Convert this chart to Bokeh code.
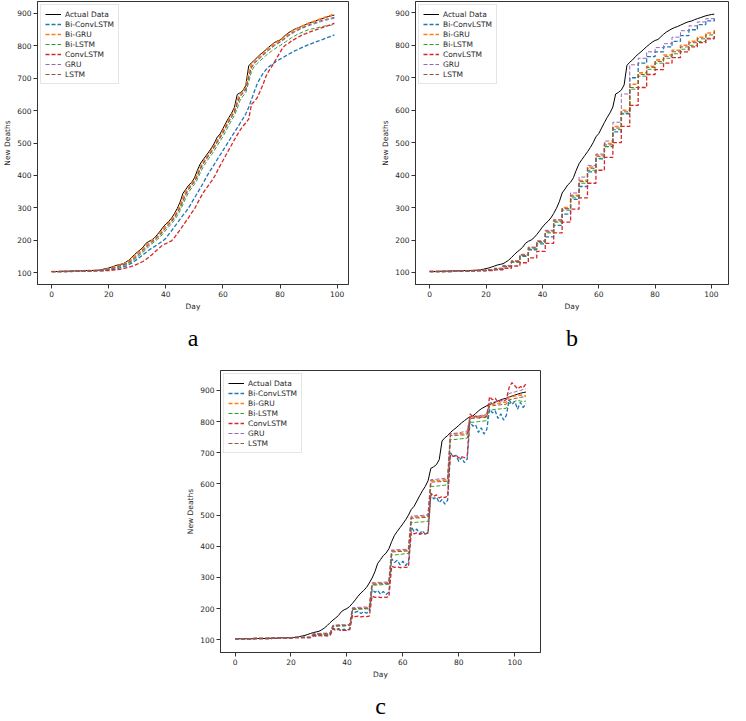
from bokeh.plotting import figure
from bokeh.layouts import column, row
from bokeh.models import Range1d, FixedTicker, Title, Spacer
from bokeh.embed import file_html
from bokeh.resources import INLINE

# ---------------- data ----------------
models = ["Bi-ConvLSTM", "Bi-GRU", "Bi-LSTM", "ConvLSTM", "GRU", "LSTM"]
colors = ["#1f77b4", "#ff7f0e", "#2ca02c", "#d62728", "#9467bd", "#8c564b"]
widths = [1.3, 1.6, 1.0, 1.3, 1.0, 1.0]

x_ticks = [0, 20, 40, 60, 80, 100]
y_ticks = [100, 200, 300, 400, 500, 600, 700, 800, 900]

# Panel a (days 0..99)
actual_a = [103,103,103,104,104,104,104,105,105,105,
            105,106,106,106,106,107,107,108,110,112,
            114,117,120,123,125,127,132,138,146,155,
            163,170,178,190,196,200,207,217,228,240,
            250,258,268,282,298,318,345,357,370,378,
            392,415,435,448,460,472,485,500,518,528,
            545,562,578,592,610,650,655,662,678,738,
            748,755,765,773,780,788,796,803,810,815,
            818,826,834,841,846,851,855,858,862,866,
            870,873,875,879,882,885,888,891,893,895]

biconv_a = [103,103,103,103,103,103,103,104,104,104,
            104,104,105,105,105,105,106,106,106,107,
            108,109,110,112,114,117,120,124,129,135,
            141,148,155,162,169,175,180,186,192,198,
            206,218,229,241,253,265,277,288,300,315,
            330,345,360,375,392,407,421,435,449,463,
            477,491,505,519,533,547,561,575,590,610,
            635,660,683,700,714,726,735,742,748,754,
            759,764,769,774,779,784,788,792,796,800,
            804,807,810,814,817,820,824,827,830,834]

bigru_a = [103,103,103,103,104,104,104,104,105,105,
           105,105,106,106,106,106,107,107,108,110,
           112,115,118,121,124,126,129,135,142,150,
           158,166,174,184,192,198,204,212,222,234,
           245,254,263,276,291,309,332,350,363,374,
           385,403,425,441,454,466,479,493,509,523,
           538,555,571,586,602,632,652,659,672,718,
           744,753,761,770,777,785,793,800,807,813,
           817,824,831,838,844,849,854,858,862,866,
           870,873,876,879,883,886,889,892,895,898]

bilstm_a = [103,103,103,103,103,103,104,104,104,104,
            105,105,105,105,106,106,106,106,107,107,
            109,111,113,115,118,121,124,128,133,140,
            147,155,163,171,180,188,195,202,210,220,
            231,241,251,262,275,291,311,331,348,361,
            372,387,407,425,439,452,464,477,492,506,
            520,537,554,570,585,607,632,645,656,688,
            722,737,746,754,762,770,777,784,790,796,
            801,807,813,819,825,830,835,839,843,847,
            850,852,854,856,858,860,862,863,864,866]

conv_a = [103,103,103,103,103,103,103,103,104,104,
          104,104,104,104,105,105,105,105,105,106,
          106,107,108,109,110,112,114,116,119,122,
          126,130,134,140,147,154,162,170,178,186,
          189,194,198,208,220,232,245,258,270,284,
          296,313,330,345,358,370,382,396,413,430,
          446,462,478,494,510,525,540,552,562,574,
          620,628,640,660,680,705,722,735,750,765,
          780,795,803,808,815,820,826,830,835,838,
          842,845,848,851,854,857,860,863,866,870]

gru_a = [103,103,103,103,103,104,104,104,104,105,
         105,105,105,106,106,106,106,107,107,108,
         110,112,114,117,120,123,126,130,136,143,
         151,159,167,176,185,192,199,206,215,226,
         237,247,257,268,282,299,320,340,356,368,
         379,396,417,434,447,460,472,486,501,515,
         530,547,564,579,594,620,643,653,664,700,
         732,745,754,762,770,778,786,793,800,806,
         811,817,824,831,837,842,847,851,855,859,
         862,865,868,871,874,877,879,881,883,885]

lstm_a = [103,103,103,103,103,104,104,104,104,105,
          105,105,105,106,106,106,106,107,107,108,
          111,113,115,118,121,124,127,132,138,145,
          153,161,169,178,187,194,201,208,217,228,
          239,249,259,271,285,302,323,343,358,370,
          381,398,420,436,449,462,474,488,503,517,
          532,549,566,581,596,623,646,655,666,705,
          735,747,756,764,772,780,788,795,802,808,
          813,819,826,833,839,844,849,853,857,861,
          865,868,871,874,877,880,882,884,886,888]

# Panel b (days 0..101); forecasts are 3-day steps starting at these days
actual_b = [103] + actual_a + [896]
step_days_b = [0, 2, 5, 8, 11, 14, 17, 20, 23, 26, 29, 32, 35, 38, 41, 44, 47,
               50, 53, 56, 59, 62, 65, 68, 71, 74, 77, 80, 83, 86, 89, 92, 95, 98, 101]
biconv_b = [103,103,103,104,104,105,106,107,110,118,
            132,150,170,188,210,245,280,325,365,410,
            450,488,533,590,700,745,765,780,795,812,
            830,848,864,875,882]
bigru_b = [103,103,104,104,105,106,107,108,112,120,
           136,155,177,197,228,262,300,338,383,425,
           462,497,550,600,680,715,735,755,770,785,
           800,812,825,838,848]
bilstm_b = [103,103,104,104,105,105,106,108,111,118,
            132,151,172,192,222,255,292,330,375,415,
            452,488,540,588,665,705,726,745,760,774,
            788,800,812,822,830]
conv_b = [103,103,103,104,104,105,105,106,108,113,
          120,130,145,165,190,222,255,295,330,375,
          415,455,500,550,615,670,710,725,745,762,
          780,795,808,820,830]
gru_b = [103,103,104,104,105,106,107,109,113,122,
         135,155,178,197,230,262,297,345,394,430,
         465,505,563,650,740,760,780,793,805,825,
         845,860,872,882,888]
lstm_b = [103,103,104,104,105,106,107,108,111,119,
          134,153,175,195,225,258,296,335,380,421,
          458,493,545,595,670,710,732,750,766,780,
          795,808,820,832,843]

# Panel c (days 0..104), forecasts in 7-day blocks
actual_c = [103, 103, 103, 103, 103] + actual_a
biconv_c = ([103]*7 + [104]*7 + [105]*7 + [107]*7 +
            [112,114,113,115,114,116,115] +
            [138,132,136,130,134,131,135] +
            [195,188,192,184,190,185,191] +
            [262,252,258,246,255,245,252] +
            [360,348,355,340,352,338,350] +
            [462,448,455,440,450,438,446] +
            [565,552,558,540,550,535,548] +
            [700,688,692,672,685,668,680] +
            [800,785,790,765,780,760,775] +
            [840,828,835,810,825,805,820] +
            [870,855,865,840,862,845,858])
bigru_c = ([103]*7 + [104]*7 + [106]*7 + [108]*7 +
           [118,118,119,119,119,120,120] +
           [145,145,146,146,146,147,147] +
           [200,200,201,201,202,202,202] +
           [280,280,281,281,282,282,283] +
           [385,385,386,386,387,387,388] +
           [493,493,494,494,495,496,497] +
           [610,610,611,611,612,613,614] +
           [760,760,760,761,761,762,763] +
           [815,815,816,817,818,819,820] +
           [855,856,857,858,860,862,863] +
           [878,880,882,884,885,884,882])
bilstm_c = ([103]*7 + [104]*7 + [105]*7 + [107]*7 +
            [116,116,117,117,117,118,118] +
            [143,143,144,144,144,145,145] +
            [197,197,198,198,198,199,199] +
            [275,275,276,276,277,277,278] +
            [372,372,373,374,375,376,377] +
            [476,476,477,478,478,479,480] +
            [592,592,593,594,595,596,597] +
            [742,742,743,744,745,746,747] +
            [798,798,799,800,801,802,803] +
            [838,838,839,840,841,842,843] +
            [858,860,865,868,866,864,866])
conv_c = ([103]*7 + [104]*7 + [105]*7 + [107]*7 +
          [113,112,114,112,113,112,114] +
          [135,130,133,128,131,129,132] +
          [178,174,176,173,175,174,176] +
          [240,236,238,235,237,236,238] +
          [336,332,334,331,333,332,334] +
          [445,440,443,438,441,440,442] +
          [570,560,565,555,560,556,562] +
          [695,688,692,683,688,684,690] +
          [825,815,818,810,815,812,818] +
          [880,870,875,862,868,865,872] +
          [910,925,915,905,912,908,922])
gru_c = ([103]*7 + [104]*7 + [106]*7 + [108]*7 +
         [120,120,120,121,121,121,122] +
         [147,147,148,148,148,149,149] +
         [203,203,204,204,205,205,205] +
         [283,283,284,284,285,285,286] +
         [388,388,389,389,390,390,391] +
         [497,497,498,498,499,500,501] +
         [614,614,615,616,617,618,620] +
         [762,762,763,764,766,768,770] +
         [812,813,815,817,820,822,825] +
         [860,862,864,866,868,870,872] +
         [890,893,895,898,900,903,905])
lstm_c = ([103]*7 + [104]*7 + [106]*7 + [108]*7 +
          [117,117,118,118,118,119,119] +
          [144,144,145,145,145,146,146] +
          [199,199,200,200,200,201,201] +
          [278,278,279,279,280,280,281] +
          [382,382,383,383,384,384,385] +
          [490,490,491,491,492,492,493] +
          [606,606,607,607,608,608,609] +
          [755,755,756,756,757,757,758] +
          [810,810,811,812,813,814,815] +
          [850,851,852,853,854,855,856] +
          [870,872,874,876,878,879,880])

FONT = "DejaVu Sans"
TXT = "#262626"


def make_fig(width, height, xr, yr, bl, br, bt, bb, letter, standoff):
    p = figure(width=width, height=height, x_range=Range1d(*xr), y_range=Range1d(*yr),
               output_backend="svg", toolbar_location=None,
               min_border_left=bl, min_border_right=br,
               min_border_top=bt, min_border_bottom=bb)
    p.background_fill_color = "white"
    p.border_fill_color = "white"
    p.outline_line_color = "#333333"
    p.outline_line_width = 1
    p.xgrid.visible = False
    p.ygrid.visible = False
    for ax in (p.xaxis[0], p.yaxis[0]):
        ax.axis_line_color = "#333333"
        ax.major_tick_line_color = "#333333"
        ax.major_tick_out = 4
        ax.major_tick_in = 0
        ax.minor_tick_line_color = None
        ax.major_label_text_font = FONT
        ax.major_label_text_font_size = "7.5px"
        ax.major_label_text_color = TXT
        ax.major_label_standoff = 2
        ax.axis_label_text_font = FONT
        ax.axis_label_text_font_size = "7.5px"
        ax.axis_label_text_font_style = "normal"
        ax.axis_label_text_color = TXT
        ax.axis_label_standoff = 2
    p.xaxis.axis_label = "Day"
    p.yaxis.axis_label = "New Deaths"
    p.xaxis.ticker = FixedTicker(ticks=x_ticks)
    p.yaxis.ticker = FixedTicker(ticks=y_ticks)
    p.add_layout(Title(text=letter, align="center", text_font="Liberation Serif",
                       text_font_size="24px", text_font_style="normal",
                       text_color="black", standoff=standoff), "below")
    return p


def style_legend(p):
    lg = p.legend[0]
    lg.location = "top_left"
    lg.margin = 3
    lg.padding = 4
    lg.spacing = 0
    lg.glyph_height = 10
    lg.label_height = 10
    lg.glyph_width = 16
    lg.label_standoff = 4
    lg.label_text_font = FONT
    lg.label_text_font_size = "7.5px"
    lg.label_text_color = TXT
    lg.border_line_color = "#cccccc"
    lg.border_line_width = 1
    lg.background_fill_color = "white"
    lg.background_fill_alpha = 0.85


# Panel a
pa = make_fig(378, 359, (-4.95, 103.95), (63, 937), 20, 30, 1, 10, "a", 18)
da = list(range(len(actual_a)))
pa.line(da, actual_a, color="black", line_width=1.0, legend_label="Actual Data")
for name, ys, c, w in zip(models, [biconv_a, bigru_a, bilstm_a, conv_a, gru_a, lstm_a], colors, widths):
    pa.line(list(range(len(ys))), ys, color=c, line_width=w, line_dash="4 2", legend_label=name)
style_legend(pa)

# Panel b
pb = make_fig(352, 359, (-5.05, 106.05), (63, 935), 30, 2, 1, 10, "b", 18)
db = list(range(len(actual_b)))
pb.line(db, actual_b, color="black", line_width=1.0, legend_label="Actual Data")
for name, ys, c, w in zip(models, [biconv_b, bigru_b, bilstm_b, conv_b, gru_b, lstm_b], colors, widths):
    pb.step(step_days_b, ys, mode="after", color=c, line_width=w, line_dash="4 2", legend_label=name)
style_legend(pb)

# Panel c
pc = make_fig(367, 368, (-5.2, 109.2), (59, 964), 30, 10, 11, 10, "c", 18)
dc = list(range(len(actual_c)))
pc.line(dc, actual_c, color="black", line_width=1.0, legend_label="Actual Data")
for name, ys, c, w in zip(models, [biconv_c, bigru_c, bilstm_c, conv_c, gru_c, lstm_c], colors, widths):
    pc.line(list(range(len(ys))), ys, color=c, line_width=w, line_dash="4 2", legend_label=name)
style_legend(pc)

layout = column(row(pa, pb), row(Spacer(width=183, height=368), pc))

with open("out.html", "w") as f:
    f.write(file_html(layout, INLINE))
